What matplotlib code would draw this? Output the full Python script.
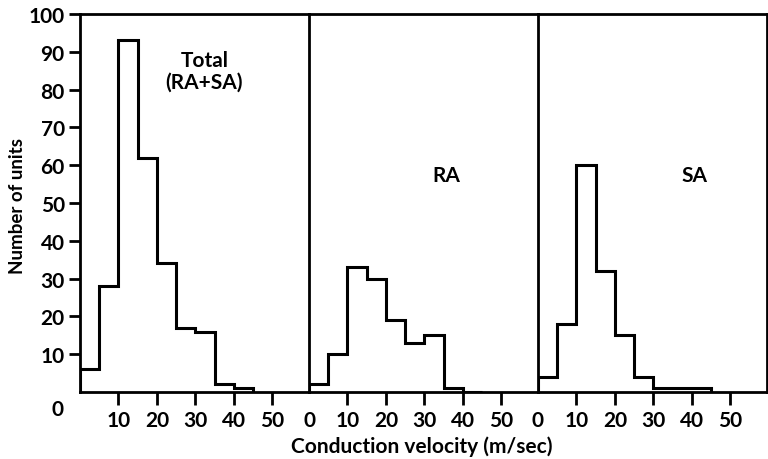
import numpy as np
import matplotlib
matplotlib.use("Agg")
import matplotlib.pyplot as plt

# bin edges (m/sec) and counts per 5 m/sec bin
edges = np.arange(0, 50, 5)
total = [6, 28, 93, 62, 34, 17, 16, 2, 1]
ra = [2, 10, 33, 30, 19, 13, 15, 1, 0]
sa = [4, 18, 60, 32, 15, 4, 1, 1, 1]

panels = [("Total\n(RA+SA)", total, (32.3, 85.0)),
          ("RA", ra, (35.7, 57.3)),
          ("SA", sa, (40.6, 57.3))]

plt.rcParams['font.family'] = ['Lato', 'DejaVu Sans']
plt.rcParams['font.weight'] = 'bold'

fig = plt.figure(figsize=(7.68, 4.6), dpi=100)
left, bottom, w, h = 80/768, 0.1457, 229/768, 0.8217

for i, (name, vals, pos) in enumerate(panels):
    ax = fig.add_axes([left + i*w, bottom, w, h])
    ax.stairs(vals, edges, baseline=0, fill=False,
              color='black', linewidth=2.2)
    ax.set_xlim(0, 59.5)
    ax.set_ylim(0, 100)
    for s in ax.spines.values():
        s.set_linewidth(2.0)
    ax.spines['right'].set_visible(i == 2)
    if i == 0:
        ax.set_xticks([10, 20, 30, 40, 50])
        ax.set_yticks(np.arange(10, 101, 10))
        ax.tick_params(axis='y', length=8, width=2.0, labelsize=15, pad=3)
        ax.annotate('0', xy=(0, 0), xytext=(-23, -17), textcoords='offset pixels',
                    fontsize=15, ha='center', va='center')
    else:
        ax.set_xticks([0, 10, 20, 30, 40, 50])
        ax.xaxis.get_major_ticks()[0].tick1line.set_visible(False)
        ax.set_yticks([])
    ax.tick_params(axis='x', length=9, width=2.0, labelsize=15, pad=4)
    ax.text(pos[0], pos[1], name, ha='center', va='center', fontsize=15,
            linespacing=1.1)

fig.text(18/768, 1 - 206/460, "Number of units", rotation=90,
         ha='center', va='center', fontsize=13.5)
fig.text(422/768, 1 - 447/460, "Conduction velocity (m/sec)",
         ha='center', va='center', fontsize=15)

fig.savefig("out.png", dpi=100)
